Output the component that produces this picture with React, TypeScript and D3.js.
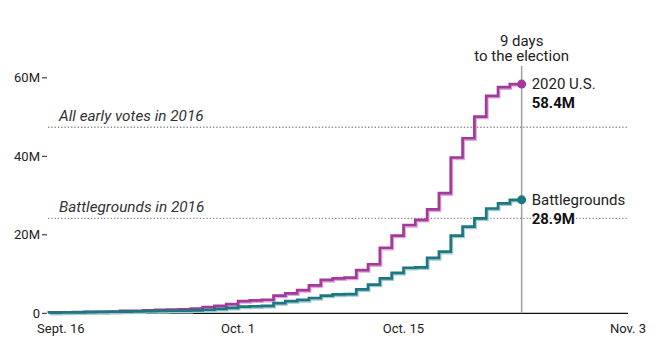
import React from 'react';
import * as d3 from 'd3';

// cumulative early votes (millions), one value per day from Sept. 15
const startDate = new Date(2020, 8, 15);
const usVotes = [
  0.2, 0.25, 0.25, 0.3, 0.4, 0.4, 0.45, 0.6, 0.6, 0.75,
  0.9, 0.95, 1.0, 1.2, 1.6, 1.9, 2.35, 3.1, 3.3, 3.45,
  4.5, 5.1, 5.9, 7.1, 8.5, 8.9, 9.1, 11.0, 12.5, 16.7,
  19.8, 22.5, 23.8, 26.5, 30.6, 39.7, 44.6, 50.1, 55.4, 57.6,
  58.4,
];
const battlegroundVotes = [
  0.1, 0.15, 0.2, 0.25, 0.3, 0.35, 0.4, 0.45, 0.5, 0.55,
  0.6, 0.65, 0.65, 0.75, 0.9, 1.15, 1.4, 1.7, 1.8, 1.9,
  2.6, 3.1, 3.4, 3.9, 4.5, 4.8, 4.9, 6.1, 7.3, 8.9,
  10.3, 11.6, 11.7, 14.1, 15.7, 19.8, 22.1, 24.2, 26.7, 28.0,
  28.9,
];

const yTicks = [0, 20, 40, 60];
const xTicks = [
  { date: new Date(2020, 8, 16), label: 'Sept. 16' },
  { date: new Date(2020, 9, 1), label: 'Oct. 1' },
  { date: new Date(2020, 9, 15), label: 'Oct. 15' },
  { date: new Date(2020, 10, 3), label: 'Nov. 3' },
];
const refLines = [
  { label: 'All early votes in 2016', value: 47.4 },
  { label: 'Battlegrounds in 2016', value: 24.2 },
];
const seriesInfo = [
  { name: '2020 U.S.', total: '58.4M', values: usVotes, color: '#a2399b', halo: '#dcaad6' },
  { name: 'Battlegrounds', total: '28.9M', values: battlegroundVotes, color: '#1b7880', halo: '#a3c9cc' },
];
const electionDate = new Date(2020, 10, 3);
const todayLabel = ['9 days', 'to the election'];

const width = 665;
const height = 354;
const font = 'Roboto, "Liberation Sans", sans-serif';

export default function App() {
  const x = d3.scaleTime().domain([startDate, electionDate]).range([49, 628]);
  const y = d3.scaleLinear().domain([0, 60]).range([313.3, 77.8]);

  const line = d3.line<number>()
    .x((d, i) => x(d3.timeDay.offset(startDate, i)))
    .y(d => y(d))
    .curve(d3.curveStepBefore);

  const lastIdx = usVotes.length - 1;
  const lastX = x(d3.timeDay.offset(startDate, lastIdx));

  return (
    <svg width={width} height={height} style={{ position: 'absolute', left: 0, top: 0 }} fontFamily={font}>
      {/* 2016 reference lines */}
      {refLines.map(r => (
        <g key={r.label}>
          <line x1={48} x2={628} y1={y(r.value)} y2={y(r.value)}
            stroke="#8a8a8a" strokeWidth={1.3} strokeDasharray="1.3,2" />
          <text x={59} y={y(r.value) - 6} fontSize={15.3} fontStyle="italic" fill="#333">{r.label}</text>
        </g>
      ))}

      {/* y axis */}
      {yTicks.map(t => (
        <g key={t}>
          <text x={40} y={y(t)} dy="0.35em" textAnchor="end" fontSize={13} fill="#222">
            {t === 0 ? '0' : `${t}M`}
          </text>
          <line x1={42} x2={47} y1={y(t)} y2={y(t)} stroke="#222" strokeWidth={1} />
        </g>
      ))}

      {/* x axis */}
      <line x1={48} x2={628} y1={y(0)} y2={y(0)} stroke="#111" strokeWidth={1.3} />
      {xTicks.map(t => (
        <text key={t.label} x={x(t.date)} y={333} textAnchor="middle" fontSize={13} fill="#222">{t.label}</text>
      ))}

      {/* today marker */}
      <line x1={lastX} x2={lastX} y1={66} y2={y(0)} stroke="#a0a0a0" strokeWidth={1.5} />
      {todayLabel.map((s, i) => (
        <text key={s} x={lastX} y={45.5 + i * 15} textAnchor="middle" fontSize={15} fill="#222">{s}</text>
      ))}

      {/* series */}
      {seriesInfo.map(s => (
        <g key={s.name}>
          <path d={line(s.values) || ''} fill="none" stroke={s.halo} strokeWidth={3}
            transform="translate(1,1.2)" />
          <path d={line(s.values) || ''} fill="none" stroke={s.color} strokeWidth={2.7} />
          <circle cx={lastX} cy={y(s.values[lastIdx])} r={4.5} fill={s.color} />
          <text x={lastX + 10} y={y(s.values[lastIdx]) + 5} fontSize={15} fill="#222">{s.name}</text>
          <text x={lastX + 10} y={y(s.values[lastIdx]) + 24} fontSize={15} fontWeight="bold" fill="#111">{s.total}</text>
        </g>
      ))}
    </svg>
  );
}
